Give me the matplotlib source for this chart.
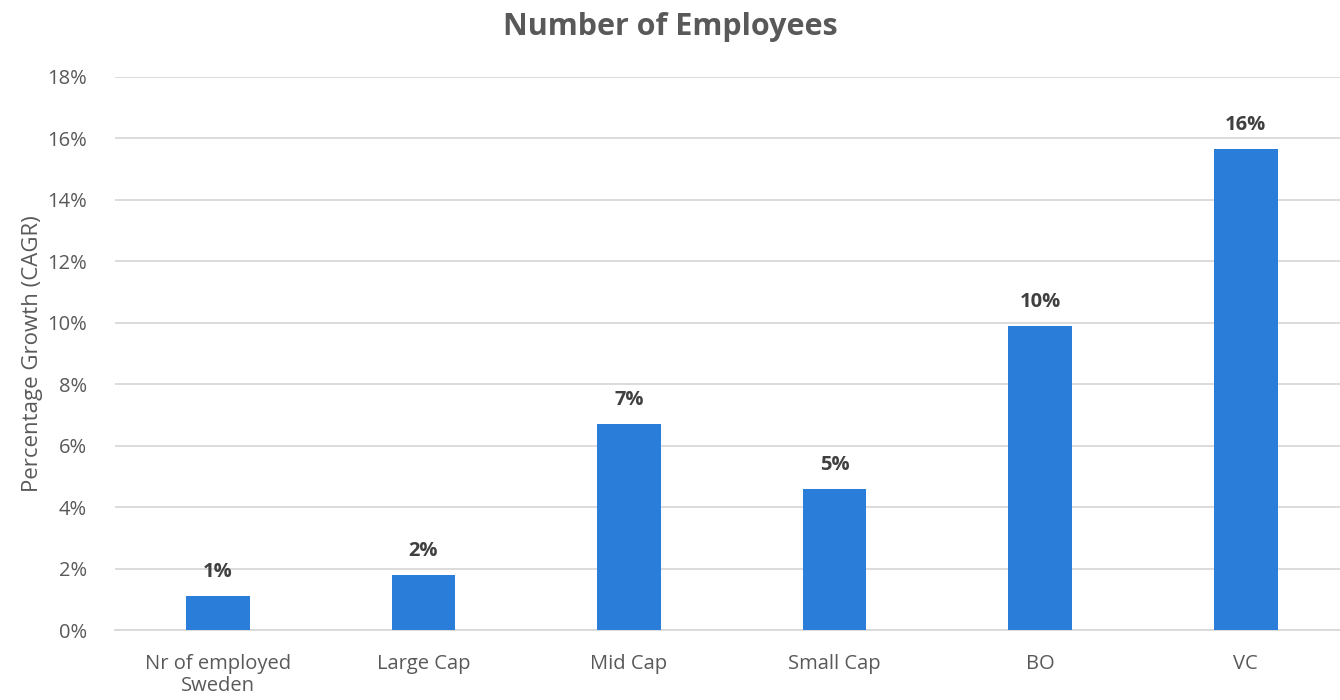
import matplotlib
matplotlib.use("Agg")
import matplotlib.pyplot as plt
from matplotlib.ticker import PercentFormatter

categories = ["Nr of employed\nSweden", "Large Cap", "Mid Cap", "Small Cap", "BO", "VC"]
values = [1.1, 1.8, 6.7, 4.6, 9.9, 15.65]  # percent CAGR
yticks = [0, 2, 4, 6, 8, 10, 12, 14, 16, 18]

plt.rcParams['font.family'] = ['Open Sans', 'DejaVu Sans']

fig = plt.figure(figsize=(13.4, 7.0), dpi=100)
ax = fig.add_axes([115 / 1340, 0.1, 1 - 115 / 1340, 0.79])

x = list(range(len(categories)))
bars = ax.bar(x, values, width=0.31, color="#2A7DD8", zorder=3)

for xi, v in zip(x, values):
    ax.annotate(f"{round(v):d}%", (xi, v), xytext=(0, 10), textcoords="offset points",
                ha="center", va="bottom", fontsize=14.5, fontweight="bold", color="#404040")

ax.set_xlim(-0.5, 5.458)
ax.set_ylim(0, 18)
ax.set_yticks(yticks)
ax.yaxis.set_major_formatter(PercentFormatter(decimals=0))
ax.set_xticks(x)
ax.set_xticklabels(categories, linespacing=1.15)
ax.grid(axis="y", color="#D9D9D9", linewidth=1.3, zorder=0)
for s in ["top", "right", "left"]:
    ax.spines[s].set_visible(False)
ax.spines["bottom"].set_color("#D9D9D9")
ax.spines["bottom"].set_linewidth(1.3)
ax.tick_params(axis="both", length=0, labelsize=14.5, labelcolor="#595959")
ax.tick_params(axis="y", pad=20)
ax.tick_params(axis="x", pad=17)

ax.set_ylabel("Percentage Growth (CAGR)", fontsize=16, color="#595959", labelpad=3)
fig.suptitle("Number of Employees", fontsize=22, fontweight="bold", color="#595959", y=0.983)

fig.savefig("out.png", dpi=100)
